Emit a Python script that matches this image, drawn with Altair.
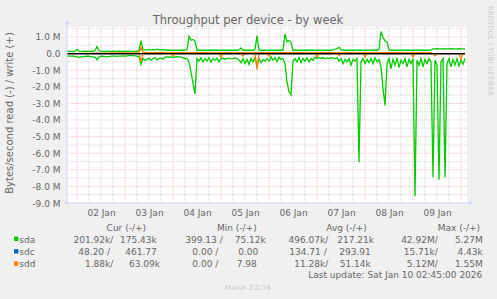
import json
import altair as alt
import pandas as pd

# ---------------- data (x = hours since 2026-01-01 00:00, values in MB/s) -------------
hours = list(range(19, 219))

sda_read = [
    -0.15, -0.16, -0.16, -0.15, -0.17, -0.20, -0.22, -0.20, -0.18, -0.17,
    -0.16, -0.17, -0.18, -0.20, -0.22, -0.38, -0.20, -0.17, -0.16, -0.18,
    -0.20, -0.18, -0.16, -0.15, -0.16, -0.17, -0.16, -0.15, -0.14, -0.15,
    -0.14, -0.13, -0.12, -0.13, -0.14, -0.15, -0.20, -0.66, -0.30, -0.42,
    -0.35, -0.28, -0.40, -0.30, -0.25, -0.38, -0.30, -0.26, -0.34, -0.22,
    -0.20, -0.22, -0.20, -0.24, -0.20, -0.18, -0.20, -0.22, -0.24, -0.30,
    -0.30, -0.50, -1.10, -1.80, -2.43, -0.30, -0.45, -0.25, -0.50, -0.30,
    -0.45, -0.25, -0.52, -0.30, -0.40, -0.28, -0.50, -0.30, -0.28, -0.35,
    -0.30, -0.28, -0.32, -0.30, -0.26, -0.30, -0.40, -0.55, -0.30, -0.60,
    -0.35, -0.65, -0.30, -0.50, -0.25, -0.70, -0.30, -0.55, -0.35, -0.45,
    -0.30, -0.45, -0.20, -0.40, -0.25, -0.48, -0.22, -0.35, -0.30, -0.60,
    -1.70, -2.30, -2.49, -0.45, -0.30, -0.50, -0.25, -0.55, -0.30, -0.45,
    -0.25, -0.50, -0.30, -0.40, -0.22, -0.30, -0.25, -0.28, -0.24, -0.30,
    -0.26, -0.30, -0.25, -0.28, -0.30, -0.26, -0.45, -0.30, -0.60, -0.35,
    -0.50, -0.30, -0.70, -0.35, -0.45, -0.30, -6.55, -0.50, -0.30, -0.60,
    -0.35, -0.55, -0.30, -0.60, -0.25, -0.50, -0.35, -0.80, -2.10, -3.13,
    -0.60, -0.30, -0.90, -0.35, -0.70, -0.25, -0.85, -0.40, -0.60, -0.30,
    -0.80, -0.35, -0.60, -0.30, -8.60, -0.40, -0.70, -0.30, -0.80, -0.35,
    -0.60, -0.30, -0.50, -7.45, -0.40, -0.70, -7.60, -0.50, -0.30, -7.45,
    -0.60, -0.30, -0.80, -0.35, -0.70, -0.30, -0.75, -0.40, -0.65, -0.30,
]

sda_write = [
    0.13, 0.14, 0.13, 0.13, 0.14, 0.25, 0.14, 0.13, 0.13, 0.14,
    0.13, 0.14, 0.13, 0.14, 0.20, 0.42, 0.18, 0.14, 0.13, 0.13,
    0.14, 0.13, 0.13, 0.14, 0.13, 0.13, 0.14, 0.13, 0.13, 0.14,
    0.13, 0.14, 0.13, 0.13, 0.14, 0.13, 0.20, 0.78, 0.24, 0.22,
    0.22, 0.25, 0.22, 0.23, 0.22, 0.26, 0.22, 0.22, 0.24, 0.22,
    0.20, 0.20, 0.21, 0.20, 0.20, 0.20, 0.21, 0.20, 0.20, 0.22,
    0.22, 1.04, 0.80, 0.85, 0.75, 0.20, 0.20, 0.21, 0.20, 0.20,
    0.20, 0.20, 0.21, 0.20, 0.20, 0.20, 0.20, 0.21, 0.20, 0.20,
    0.20, 0.20, 0.21, 0.20, 0.20, 0.20, 0.22, 0.34, 0.20, 0.20,
    0.20, 0.21, 0.20, 0.20, 0.25, 1.08, 0.22, 0.20, 0.20, 0.21,
    0.20, 0.20, 0.20, 0.21, 0.20, 0.20, 0.20, 0.20, 0.21, 1.18,
    0.72, 0.78, 0.68, 0.20, 0.20, 0.21, 0.20, 0.20, 0.20, 0.20,
    0.21, 0.20, 0.20, 0.20, 0.20, 0.20, 0.21, 0.20, 0.20, 0.20,
    0.20, 0.20, 0.20, 0.22, 0.26, 0.30, 0.38, 0.24, 0.20, 0.20,
    0.20, 0.21, 0.20, 0.20, 0.20, 0.22, 0.20, 0.20, 0.21, 0.20,
    0.20, 0.20, 0.22, 0.20, 0.20, 0.20, 0.25, 1.33, 0.98, 0.75,
    0.70, 0.22, 0.20, 0.20, 0.21, 0.20, 0.20, 0.22, 0.20, 0.20,
    0.20, 0.21, 0.20, 0.20, 0.20, 0.22, 0.20, 0.20, 0.20, 0.21,
    0.20, 0.20, 0.22, 0.28, 0.28, 0.29, 0.28, 0.28, 0.30, 0.28,
    0.28, 0.28, 0.29, 0.28, 0.28, 0.28, 0.29, 0.28, 0.28, 0.28,
]

sdc_hours = [19, 218]
sdc_read = [0.0, 0.0]
sdc_write = [0.0, 0.0]

sdd_write_hours = [19, 55, 56, 57, 201, 202, 218]
sdd_write = [0.0, 0.06, 0.38, 0.06, 0.06, 0.0, 0.0]

sdd_read_hours = [19, 55, 56, 57, 71, 72, 73, 95, 96, 97, 106, 107, 108, 113, 114, 115,
                  119, 120, 121, 143, 144, 145, 154, 155, 156, 167, 168, 169, 191, 192,
                  193, 202, 203, 204, 215, 216, 217, 218]
sdd_read = [0, 0, -0.48, 0, 0, -0.16, 0, 0, -0.22, 0, 0, -0.15, 0, 0, -0.95, 0,
            0, -0.16, 0, 0, -0.20, 0, 0, -0.12, 0, 0, -0.20, 0, 0, -0.20,
            0, 0, -0.15, 0, 0, -0.32, 0, 0]

x_tick_hours = [36, 60, 84, 108, 132, 156, 180, 204]
x_tick_labels = ["02 Jan", "03 Jan", "04 Jan", "05 Jan", "06 Jan", "07 Jan", "08 Jan", "09 Jan"]
y_tick_vals = [-9, -8, -7, -6, -5, -4, -3, -2, -1, 0, 1]
y_tick_labels = ["-9.0 M", "-8.0 M", "-7.0 M", "-6.0 M", "-5.0 M", "-4.0 M", "-3.0 M",
                 "-2.0 M", "-1.0 M", "0.0", "1.0 M"]

series_names = ["sda", "sdc", "sdd"]
series_colors = ["#00CC00", "#0066B3", "#FF8000"]
legend_header = ["Cur (-/+)", "Min (-/+)", "Avg (-/+)", "Max (-/+)"]
legend_cells = [
    ["201.92k/", "175.43k", "399.13 /", "75.12k", "496.07k/", "217.21k", "42.92M/", "5.27M"],
    ["48.20 /", "461.77", "0.00 /", "0.00", "134.71 /", "293.91", "15.71k/", "4.43k"],
    ["1.88k/", "63.09k", "0.00 /", "7.98", "11.28k/", "51.14k", "5.12M/", "1.55M"],
]
title_text = "Throughput per device - by week"
y_title = "Bytes/second read (-) / write (+)"
last_update = "Last update: Sat Jan 10 02:45:00 2026"
munin_version = "Munin 2.0.76"
watermark = "RRDTOOL / TOBI OETIKER"

# ---------------- layout / style ----------------
FONT = "DejaVu Sans"
FCOL = "#666666"
W, H = 400, 176
xs = alt.Scale(domain=[19, 219], nice=False, zero=False)
ys = alt.Scale(domain=[-9.0, 1.6], nice=False, zero=False)

x_axis = alt.Axis(values=x_tick_hours,
                  labelExpr=f"{json.dumps(x_tick_labels)}[indexof({json.dumps(x_tick_hours)}, datum.value)]",
                  grid=False, ticks=False, domain=False, title=None, labelFont=FONT,
                  labelFontSize=9, labelColor=FCOL, labelPadding=5, labelFlush=False,
                  labelOverlap=False)
y_axis = alt.Axis(values=y_tick_vals,
                  labelExpr=f"{json.dumps(y_tick_labels)}[indexof({json.dumps(y_tick_vals)}, datum.value)]",
                  grid=False, ticks=False, domain=False, title=None, labelFont=FONT,
                  labelFontSize=9, labelColor=FCOL, labelPadding=7, labelFlush=False,
                  labelOverlap=False)

X = alt.X("h:Q", scale=xs, axis=x_axis)
Y = alt.Y("v:Q", scale=ys, axis=y_axis)

one = pd.DataFrame({"a": [0]})

# grid
minor_v = [h for h in range(24, 219, 6) if h % 24]
major_v = list(range(24, 219, 24))
minor_h = [k + 0.5 for k in range(-9, 2)]
major_h = list(range(-8, 2))

grid_gray = "#BBBBBB"
grid_red = "#F07070"
layers = [
    alt.Chart(pd.DataFrame({"h": minor_v})).mark_rule(color=grid_gray, strokeDash=[1, 1], strokeWidth=1, opacity=0.6).encode(x=X),
    alt.Chart(pd.DataFrame({"v": minor_h})).mark_rule(color=grid_gray, strokeDash=[1, 1], strokeWidth=1, opacity=0.6).encode(y=Y),
    alt.Chart(pd.DataFrame({"h": major_v})).mark_rule(color=grid_red, strokeDash=[1, 1], strokeWidth=1, opacity=0.45).encode(x=X),
    alt.Chart(pd.DataFrame({"v": major_h})).mark_rule(color=grid_red, strokeDash=[1, 1], strokeWidth=1, opacity=0.45).encode(y=Y),
]


def line(hrs, vals, color, width=1.3):
    df = pd.DataFrame({"h": hrs, "v": vals})
    return alt.Chart(df).mark_line(color=color, strokeWidth=width, clip=True).encode(x=X, y=Y)


layers += [
    line(hours, sda_read, series_colors[0]),
    line(hours, sda_write, series_colors[0]),
    line(sdc_hours, sdc_read, series_colors[1]),
    line(sdc_hours, sdc_write, series_colors[1]),
    line(sdd_read_hours, sdd_read, series_colors[2]),
    line(sdd_write_hours, sdd_write, series_colors[2]),
    line([19, 218], [0, 0], "#000000", 1.2),
]

# axis lines and arrows
AX = "#CFD6F8"
layers += [
    alt.Chart(one).mark_rule(color=AX, strokeWidth=1).encode(x=alt.value(0), y=alt.value(-4), y2=alt.value(178)),
    alt.Chart(one).mark_rule(color=AX, strokeWidth=1).encode(x=alt.value(-3), x2=alt.value(402), y=alt.value(176)),
    alt.Chart(one).mark_point(shape="triangle-up", filled=True, color=AX, size=22, opacity=1).encode(x=alt.value(0), y=alt.value(-5)),
    alt.Chart(one).mark_point(shape="triangle-right", filled=True, color=AX, size=22, opacity=1).encode(x=alt.value(404), y=alt.value(176)),
]


def txt(s, x, y, size=9, color=FCOL, align="left", baseline="alphabetic", angle=0):
    kw = dict(font=FONT, fontSize=size, color=color, align=align, baseline=baseline)
    if angle:
        kw["angle"] = angle
    return alt.Chart(one).mark_text(**kw).encode(x=alt.value(x), y=alt.value(y), text=alt.value(s))


OX, OY = 67, 27
layers.append(txt(title_text, 248 - OX, 24 - OY, size=11.5, align="center"))
layers.append(txt(y_title, 10 - OX, 113 - OY, size=10, align="center", baseline="middle", angle=270))
layers.append(txt(watermark, 490 - OX, 51 - OY, size=7, color="#CCCCCC", align="center", baseline="middle", angle=90))

header_right = [146, 256.7, 366.7, 480]
for s, xr in zip(legend_header, header_right):
    layers.append(txt(s, xr - OX, 230.5 - OY, align="right"))

row_base = [242.5, 255, 267.3]
cell_right = [
    [113.3, 156.7, 222.7, 265.7, 328.3, 374, 437.7, 482.7],
    [110, 156.7, 218.3, 258.3, 326.7, 370.7, 437.7, 482.7],
    [113.3, 160, 218.3, 256.7, 328.3, 370.7, 437.7, 482.7],
]
for i, name in enumerate(series_names):
    yb = row_base[i] - OY
    layers.append(alt.Chart(one).mark_square(color=series_colors[i], size=19, opacity=1).encode(
        x=alt.value(16.2 - OX), y=alt.value(yb - 3.7)))
    layers.append(txt(name, 19.3 - OX, yb))
    for s, xr in zip(legend_cells[i], cell_right[i]):
        layers.append(txt(s, xr - OX, yb, align="right"))

layers.append(txt(last_update, 482.3 - OX, 278.3 - OY, align="right"))
layers.append(txt(munin_version, 248 - OX, 290 - OY, size=7, color="#CCCCCC", align="center"))

chart = alt.layer(*layers).properties(
    width=W, height=H, background="#F0F0F0",
    padding={"left": 67, "top": 27, "right": 30, "bottom": 96},
    autosize=alt.AutoSizeParams(type="none"),
).configure_view(stroke=None, fill="white")

chart.save("out.html", embed_options={"renderer": "svg", "actions": False})
